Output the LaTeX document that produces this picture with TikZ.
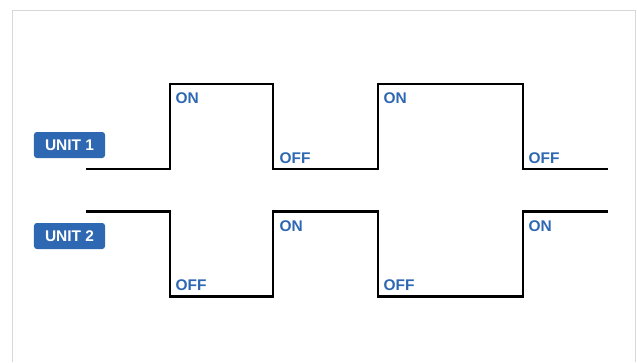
\documentclass[tikz,border=0pt]{standalone}
\usepackage{fontspec}
\setsansfont{Liberation Sans}
\usepackage{xcolor}
\usepackage{tikz}
\usetikzlibrary{positioning}
\definecolor{unitblue}{RGB}{46,104,178}
\definecolor{framegray}{RGB}{216,216,216}
\tikzstyle{unitbox} = [rectangle, rounded corners=2pt, minimum width=1.775cm, minimum height=0.65cm, inner sep=0pt, align=center, fill=unitblue, text=white, font=\sffamily\bfseries\fontsize{11pt}{13pt}\selectfont]
\tikzstyle{state} = [anchor=base west, inner sep=0pt, text=unitblue, font=\sffamily\bfseries\fontsize{11pt}{13pt}\selectfont]
\tikzstyle{wave} = [line width=1.9pt, black, line join=miter]
\begin{document}
\begin{tikzpicture}[x=0.025cm, y=-0.025cm]
\useasboundingbox (0,0) rectangle (637,362);
\draw [framegray, line width=0.7pt] (12.5,362) |- (635,10.5) -- (635,362);

\node (unitone) [unitbox] at (69.5,145) {UNIT 1};
\node (unittwo) [unitbox] at (69.5,236) {UNIT 2};

% unit 1 signal
\draw [wave] (86,169) -- (170,169) -- (170,84) -- (273,84) -- (273,169) -- (378,169) -- (378,84) -- (523,84) -- (523,169) -- (608,169);
% unit 2 signal
\draw [wave] (86,211.5) -- (170,211.5) -- (170,296.5) -- (273,296.5) -- (273,211.5) -- (378,211.5) -- (378,296.5) -- (523,296.5) -- (523,211.5) -- (608,211.5);

\node (onea) [state] at (175.3,103.5) {ON};
\node (oneb) [state] at (279.3,163) {OFF};
\node (onec) [state] at (383.3,103.5) {ON};
\node (oned) [state] at (528.3,163) {OFF};

\node (twoa) [state] at (175.3,290.5) {OFF};
\node (twob) [state] at (279.3,231) {ON};
\node (twoc) [state] at (383.3,290.5) {OFF};
\node (twod) [state] at (528.3,231) {ON};
\end{tikzpicture}
\end{document}
